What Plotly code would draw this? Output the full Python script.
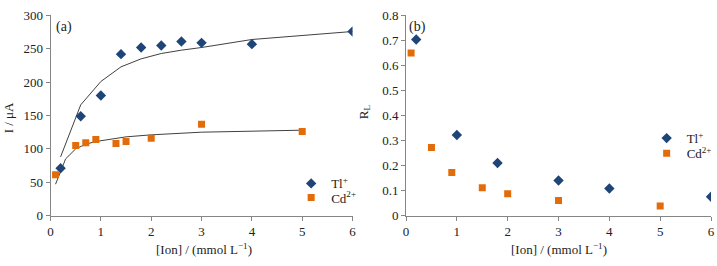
import plotly.graph_objects as go

# ---- data ----
tl_x = [0.2, 0.6, 1.0, 1.4, 1.8, 2.2, 2.6, 3.0, 4.0, 6.0]
tl_I = [71, 149, 180, 242, 252, 255, 261, 259, 257, 276]
tl_fit_x = [0.2, 0.6, 1.0, 1.4, 1.8, 2.2, 2.6, 3.0, 4.0, 6.0]
tl_fit_I = [88, 166, 201, 223, 235, 243, 248, 252, 264, 276]

cd_x = [0.1, 0.5, 0.7, 0.9, 1.3, 1.5, 2.0, 3.0, 5.0]
cd_I = [61, 105, 109, 114, 108, 111, 116, 137, 126]
cd_fit_x = [0.1, 0.3, 0.5, 0.7, 0.9, 1.3, 1.5, 2.0, 3.0, 5.0]
cd_fit_I = [47, 85, 100, 107, 111, 116, 118, 121, 125, 128]

tl_rl_x = [0.2, 1.0, 1.8, 3.0, 4.0, 6.0]
tl_rl = [0.704, 0.322, 0.210, 0.140, 0.108, 0.075]
cd_rl_x = [0.1, 0.5, 0.9, 1.5, 2.0, 3.0, 5.0]
cd_rl = [0.650, 0.272, 0.172, 0.111, 0.087, 0.060, 0.038]

TL_COLOR = "#1f4478"
CD_COLOR = "#e36c0a"
LINE_COLOR = "#404040"
FONT = "'Liberation Serif', 'Times New Roman', Times, serif"

W, H = 717, 266
def px(x):
    return x / W
def py(y):
    return (H - y) / H

fig = go.Figure()

fig.add_trace(go.Scatter(x=tl_fit_x, y=tl_fit_I, mode="lines",
                         line=dict(color=LINE_COLOR, width=1), showlegend=False,
                         xaxis="x", yaxis="y"))
fig.add_trace(go.Scatter(x=cd_fit_x, y=cd_fit_I, mode="lines",
                         line=dict(color=LINE_COLOR, width=1), showlegend=False,
                         xaxis="x", yaxis="y"))
fig.add_trace(go.Scatter(x=tl_x, y=tl_I, mode="markers", name="Tl<sup>+</sup>",
                         marker=dict(symbol="diamond", size=8, color=TL_COLOR),
                         xaxis="x", yaxis="y", legend="legend"))
fig.add_trace(go.Scatter(x=cd_x, y=cd_I, mode="markers", name="Cd<sup>2+</sup>",
                         marker=dict(symbol="square", size=7, color=CD_COLOR),
                         xaxis="x", yaxis="y", legend="legend2"))
fig.add_trace(go.Scatter(x=tl_rl_x, y=tl_rl, mode="markers", name="Tl<sup>+</sup>",
                         marker=dict(symbol="diamond", size=8, color=TL_COLOR),
                         xaxis="x2", yaxis="y2", legend="legend3"))
fig.add_trace(go.Scatter(x=cd_rl_x, y=cd_rl, mode="markers", name="Cd<sup>2+</sup>",
                         marker=dict(symbol="square", size=7, color=CD_COLOR),
                         xaxis="x2", yaxis="y2", legend="legend4"))

axis_common = dict(showline=True, linecolor="#868686", linewidth=1,
                   ticks="outside", ticklen=4, tickcolor="#868686",
                   showgrid=False, zeroline=False,
                   tickfont=dict(family=FONT, size=13, color="#222"))

ydom = [py(221), py(9)]
fig.update_layout(
    width=W, height=H,
    margin=dict(l=0, r=0, t=0, b=0),
    paper_bgcolor="white", plot_bgcolor="white",
    font=dict(family=FONT, size=13, color="#222"),
    xaxis=dict(domain=[px(48), px(353)], range=[0, 6], dtick=1, anchor="y", **axis_common),
    yaxis=dict(domain=ydom, range=[0, 300], dtick=50, anchor="x", **axis_common),
    xaxis2=dict(domain=[px(407), px(715)], range=[0, 6], dtick=1, anchor="y2", **axis_common),
    yaxis2=dict(domain=ydom, range=[0, 0.8], dtick=0.1, tickformat=".1~f", anchor="x2", **axis_common),
)

leg_common = dict(bgcolor="rgba(0,0,0,0)", borderwidth=0, xanchor="left", yanchor="middle",
                  font=dict(family=FONT, size=13, color="#222"), itemclick=False)
fig.update_layout(
    legend=dict(x=px(291), y=py(187), **leg_common),
    legend2=dict(x=px(291), y=py(202), **leg_common),
    legend3=dict(x=px(650), y=py(139), **leg_common),
    legend4=dict(x=px(650), y=py(155), **leg_common),
)

ann = [
    dict(text="(a)", x=px(52), y=py(21), xref="paper", yref="paper", xanchor="left",
         yanchor="middle", showarrow=False, font=dict(family=FONT, size=14, color="#222")),
    dict(text="(b)", x=px(408), y=py(21), xref="paper", yref="paper", xanchor="left",
         yanchor="middle", showarrow=False, font=dict(family=FONT, size=14, color="#222")),
    dict(text="I / μA", x=px(5), y=py(117), xref="paper", yref="paper", textangle=-90,
         xanchor="center", yanchor="middle", showarrow=False,
         font=dict(family=FONT, size=13, color="#222")),
    dict(text="R<sub>L</sub>", x=px(365), y=py(111), xref="paper", yref="paper", textangle=-90,
         xanchor="center", yanchor="middle", showarrow=False,
         font=dict(family=FONT, size=13, color="#222")),
    dict(text="[Ion] / (mmol L<sup>−1</sup>)", x=px(203), y=py(256), xref="paper", yref="paper",
         xanchor="center", yanchor="middle", showarrow=False,
         font=dict(family=FONT, size=13, color="#222")),
    dict(text="[Ion] / (mmol L<sup>−1</sup>)", x=px(561), y=py(256), xref="paper", yref="paper",
         xanchor="center", yanchor="middle", showarrow=False,
         font=dict(family=FONT, size=13, color="#222")),
]
fig.update_layout(annotations=ann)

fig.write_html("out.html")
